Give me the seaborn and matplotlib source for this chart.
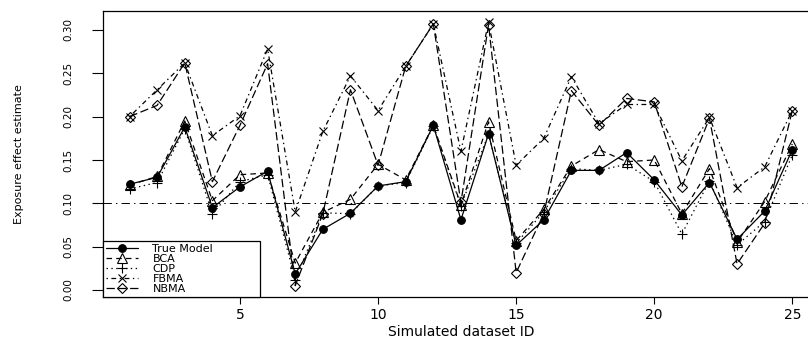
import numpy as np
import pandas as pd
import matplotlib
matplotlib.use("Agg")
import matplotlib.pyplot as plt
import seaborn as sns

# Simulated dataset IDs and the exposure effect estimate of each method
dataset_id = list(range(1, 26))
true_model = [0.122, 0.130, 0.188, 0.095, 0.119, 0.137, 0.0185, 0.070, 0.0885, 0.120,
              0.125, 0.190, 0.081, 0.180, 0.0515, 0.081, 0.138, 0.138, 0.1585, 0.127,
              0.0865, 0.124, 0.0585, 0.091, 0.162]
bca = [0.121, 0.131, 0.195, 0.103, 0.133, 0.135, 0.031, 0.0896, 0.1046, 0.145,
       0.127, 0.190, 0.098, 0.194, 0.057, 0.093, 0.143, 0.162, 0.148, 0.150,
       0.088, 0.140, 0.055, 0.102, 0.1685]
cdp = [0.1165, 0.124, 0.186, 0.0877, 0.125, 0.133, 0.012, 0.089, 0.088, 0.120,
       0.124, 0.189, 0.097, 0.180, 0.054, 0.090, 0.140, 0.138, 0.145, 0.125,
       0.0646, 0.126, 0.052, 0.079, 0.156]
fbma = [0.200, 0.231, 0.262, 0.178, 0.201, 0.278, 0.090, 0.183, 0.247, 0.207,
        0.258, 0.307, 0.160, 0.309, 0.144, 0.175, 0.246, 0.192, 0.214, 0.214,
        0.149, 0.199, 0.118, 0.142, 0.207]
nbma = [0.200, 0.213, 0.262, 0.125, 0.190, 0.261, 0.005, 0.088, 0.231, 0.144,
        0.258, 0.307, 0.101, 0.306, 0.020, 0.088, 0.230, 0.190, 0.221, 0.217,
        0.119, 0.198, 0.030, 0.077, 0.207]
reference_value = 0.10

x_ticks = [5, 10, 15, 20, 25]
y_ticks = [0.00, 0.05, 0.10, 0.15, 0.20, 0.25, 0.30]

sns.set_theme(style="ticks")
plt.rcParams["font.family"] = ["DejaVu Sans"]
plt.rcParams["lines.scale_dashes"] = False
plt.rcParams["text.color"] = "black"
plt.rcParams["axes.labelcolor"] = "black"
plt.rcParams["xtick.color"] = "black"
plt.rcParams["ytick.color"] = "black"

# (label, values, marker, linestyle, filled)
series = [
    ("True Model", true_model, "o", "-", True),
    ("BCA", bca, "^", (0, (4, 3)), False),
    ("CDP", cdp, "+", (0, (1, 2.5)), False),
    ("FBMA", fbma, "x", (0, (1, 2.5, 3.5, 2.5)), False),
    ("NBMA", nbma, "D", (0, (6, 2.5)), False),
]
marker_sizes = {"o": 5.5, "^": 6.5, "+": 7, "x": 6, "D": 5}

fig = plt.figure(figsize=(8.08, 3.4), dpi=100)
ax = fig.add_axes([0.1275, 0.1265, 0.8859, 0.8412])

for label, values, marker, ls, filled in series:
    df = pd.DataFrame({"id": dataset_id, "estimate": values})
    sns.lineplot(data=df, x="id", y="estimate", ax=ax, color="black",
                 linestyle=ls, linewidth=0.9, marker=marker,
                 markersize=marker_sizes[marker],
                 mfc="black" if filled else "none", mec="black", mew=0.8,
                 errorbar=None, label=label)

ax.axhline(reference_value, color="black", linewidth=0.7,
           linestyle=(0, (6, 3, 1, 3)))

ax.set_xlim(0.04, 25.96)
ax.set_ylim(-0.0081, 0.3219)
ax.set_xticks(x_ticks)
ax.set_yticks(y_ticks)
ax.set_xticklabels([str(t) for t in x_ticks], fontsize=10)
ax.set_yticklabels([f"{t:.2f}" for t in y_ticks], fontsize=7.5,
                   rotation=90, va="center")
ax.tick_params(axis="y", length=8, width=0.8, pad=13, color="black")
ax.tick_params(axis="x", length=5, width=0.8, pad=3, color="black")

for spine in ax.spines.values():
    spine.set_visible(True)
    spine.set_color("black")
    spine.set_linewidth(0.9)

ax.set_xlabel("Simulated dataset ID", fontsize=10)
ax.set_ylabel("Exposure effect estimate", fontsize=8)
ax.xaxis.set_label_coords(0.5, -0.098)
ax.yaxis.set_label_coords(-0.11, 0.5)

leg = ax.legend(loc="lower left", bbox_to_anchor=(0, 0, 157 / 715.8, 0.2),
                mode="expand", borderaxespad=0, fontsize=8, frameon=True,
                fancybox=False, framealpha=1, edgecolor="black",
                labelspacing=0.0, handlelength=2.9, handletextpad=1.3,
                borderpad=0.25)
leg.get_frame().set_linewidth(0.9)
for txt in leg.get_texts():
    txt.set_color("black")

fig.savefig("out.png", dpi=100)
